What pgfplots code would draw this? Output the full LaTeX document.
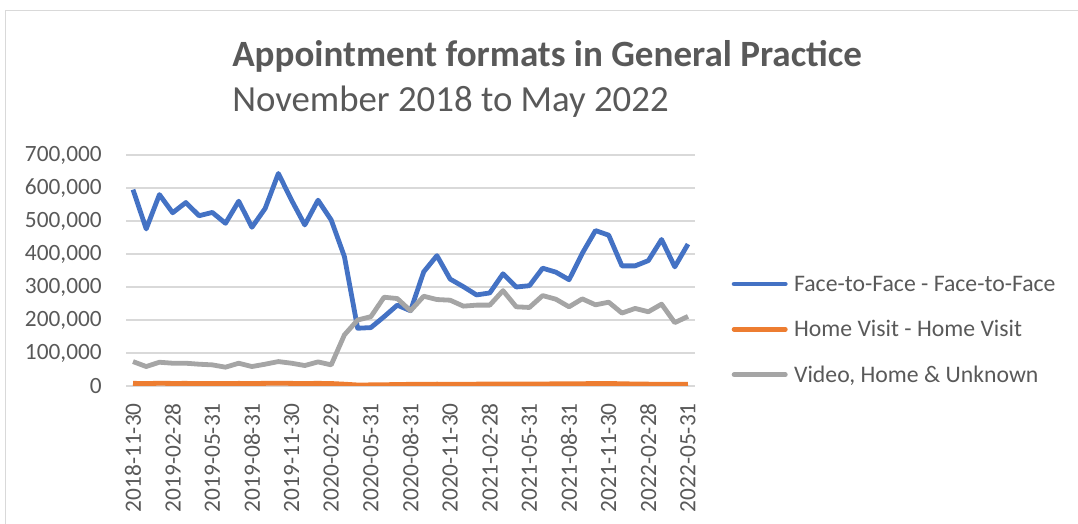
\documentclass[border=0pt]{standalone}
\usepackage{pgfplots}
\usepackage{pgfplotstable}
\pgfplotsset{compat=1.18}
\usepackage{fontspec}
\setmainfont{Carlito}
\definecolor{txt}{HTML}{595959}
\definecolor{gridc}{HTML}{D9D9D9}
\definecolor{cblue}{HTML}{4472C4}
\definecolor{corange}{HTML}{ED7D31}
\definecolor{cgray}{HTML}{A5A5A5}

\pgfplotstableread{
idx f2f home other
0 595000 8000 74000
1 476000 7500 59000
2 580000 8200 72000
3 525000 7800 69000
4 556000 7900 69000
5 516000 7600 66000
6 526000 7800 64000
7 493000 7400 57000
8 560000 7900 69000
9 481000 7600 59000
10 538000 8000 66000
11 644000 8400 74000
12 563000 7900 69000
13 488000 7600 62000
14 563000 8000 73000
15 503000 7500 64000
16 392000 5500 155000
17 175000 3000 200000
18 177000 3400 210000
19 210000 3800 269000
20 245000 4500 265000
21 228000 5000 228000
22 346000 5300 272000
23 395000 5600 262000
24 324000 5500 260000
25 301000 5400 242000
26 276000 5600 245000
27 282000 5700 245000
28 340000 5900 289000
29 300000 5900 240000
30 304000 6100 238000
31 357000 6300 274000
32 345000 6400 263000
33 322000 6400 240000
34 402000 7000 264000
35 471000 7400 246000
36 457000 7600 254000
37 364000 6800 221000
38 364000 6000 235000
39 380000 5600 225000
40 444000 5200 248000
41 361000 5000 192000
42 430000 5200 211000
}\datatable

\begin{document}
\begin{tikzpicture}
\path[use as bounding box] (0,0) rectangle (808.5pt,393pt);
\draw[gridc, line width=1.2pt] (4pt,0) -- (4pt,385pt) -- (808.5pt,385pt);
\node[anchor=base west, inner sep=0pt, font=\bfseries\fontsize{27.8}{30}\selectfont, text=txt] at (174pt,342.75pt) {Appointment formats in General Practice};
\node[anchor=base west, inner sep=0pt, font=\fontsize{27.6}{30}\selectfont, text=txt] at (174pt,309pt) {November 2018 to May 2022};
\begin{axis}[
  at={(94.8pt,103.5pt)}, anchor=south west,
  scale only axis, width=426.15pt, height=173.25pt,
  xmin=-0.5, xmax=42.5, ymin=0, ymax=700000,
  xtick={0,3,...,42},
  xticklabels={2018-11-30,2019-02-28,2019-05-31,2019-08-31,2019-11-30,2020-02-29,2020-05-31,2020-08-31,2020-11-30,2021-02-28,2021-05-31,2021-08-31,2021-11-30,2022-02-28,2022-05-31},
  ytick={0,100000,...,700000},
  scaled y ticks=false,
  /pgf/number format/.cd, fixed, 1000 sep={,}, assume math mode=true, /pgfplots/.cd,
  axis x line*=bottom, axis y line*=left,
  axis line style={draw=none},
  major tick length=0pt,
  ymajorgrids,
  major grid style={gridc, line width=1.2pt},
  tick label style={font=\fontsize{17.5}{20}\selectfont, text=txt},
  xticklabel style={rotate=90, anchor=east, inner sep=0pt, xshift=-12.75pt},
  yticklabel style={anchor=east, inner sep=0pt, xshift=-18.3pt},
  legend style={at={(1.0606,0.236)}, anchor=west, draw=none, fill=none, inner sep=0pt,
    row sep=18pt, column sep=0pt, font=\fontsize{17.8}{20}\selectfont, text=txt,
    nodes={inner sep=0pt, outer sep=0pt, text height=12pt, text depth=4pt}},
  legend cell align=left,
  legend image code/.code={\path (0pt,0pt) (45pt,0pt); \draw[#1, line cap=round] (1.8pt,1.6pt) -- (40.2pt,1.6pt);},
  every axis plot/.append style={line width=3.6pt, line join=round, no markers},
]
\addplot[cblue] table[x=idx, y=f2f] {\datatable};
\addlegendentry{Face-to-Face - Face-to-Face}
\addplot[corange] table[x=idx, y=home] {\datatable};
\addlegendentry{Home Visit - Home Visit}
\addplot[cgray] table[x=idx, y=other] {\datatable};
\addlegendentry{Video, Home \& Unknown}
\end{axis}
\end{tikzpicture}
\end{document}
